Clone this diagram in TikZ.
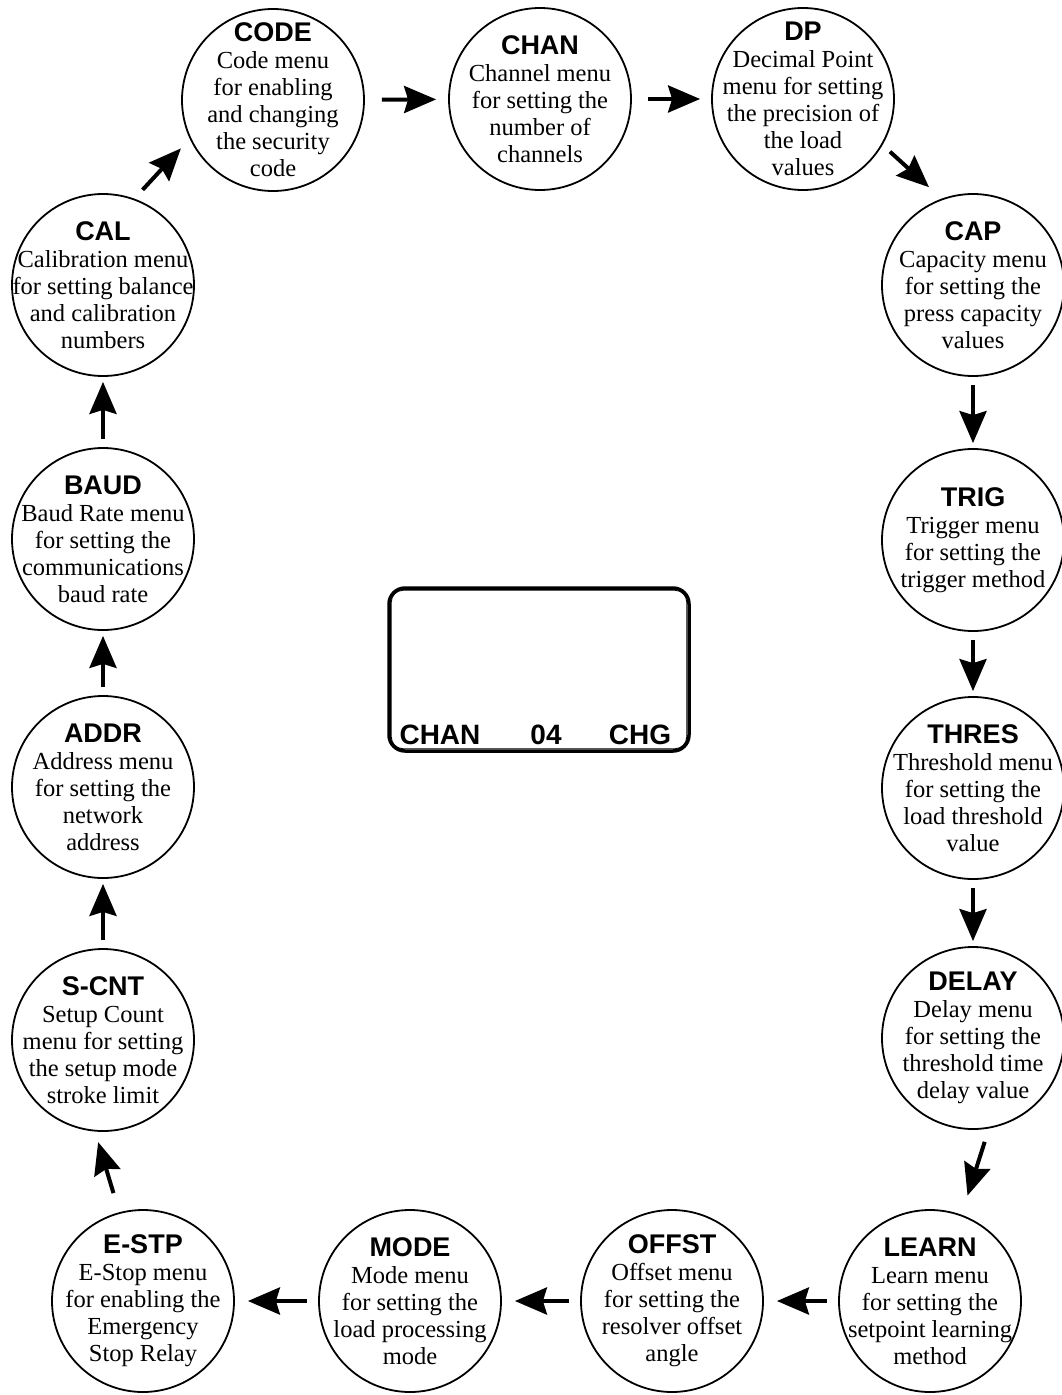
\documentclass[tikz,border=0pt]{standalone}
\usepackage{fontspec}
\setmainfont{Liberation Serif}
\newfontfamily\ttlfont{Liberation Sans}
\usetikzlibrary{arrows.meta,calc}
\newcommand\ttl[1]{{\ttlfont\bfseries\fontsize{27}{27}\selectfont #1}}
\tikzset{
  menu/.style={circle, draw, line width=1.8pt, minimum size=182pt, inner sep=0pt},
  txt/.style={align=center, font=\fontsize{24.5}{27}\selectfont, inner sep=0pt},
  flow/.style={line width=4pt, -{Stealth[length=32pt,width=27pt,inset=4pt]}, shorten <=8pt, shorten >=5pt},
  disp/.style={font=\ttlfont\bfseries\fontsize{28}{28}\selectfont, inner sep=0pt, anchor=base},
}
\begin{document}
\begin{tikzpicture}[x=1pt,y=-1pt]
\useasboundingbox (0,0) rectangle (1062,1395);
% menus
\node[menu, label={[txt]center:{\ttl{CODE}\\Code menu\\for enabling\\and changing\\the security\\code}}] (code) at (273,100) {};
\node[menu, label={[txt]center:{\ttl{CHAN}\\Channel menu\\for setting the\\number of\\channels}}] (chan) at (540,99) {};
\node[menu, label={[txt]center:{\ttl{DP}\\Decimal Point\\menu for setting\\the precision of\\the load\\values}}] (dp) at (803,99) {};
\node[menu, label={[txt]center:{\ttl{CAP}\\Capacity menu\\for setting the\\press capacity\\values}}] (cap) at (973,285) {};
\node[menu, label={[txt]center:{\ttl{TRIG}\\Trigger menu\\for setting the\\trigger method}}] (trig) at (973,540) {};
\node[menu, label={[txt]center:{\ttl{THRES}\\Threshold menu\\for setting the\\load threshold\\value}}] (thres) at (973,788) {};
\node[menu, label={[txt]center:{\ttl{DELAY}\\Delay menu\\for setting the\\threshold time\\delay value}}] (delay) at (973,1038) {};
\node[menu, label={[txt]center:{\ttl{LEARN}\\Learn menu\\for setting the\\setpoint learning\\method}}] (learn) at (930,1301) {};
\node[menu, label={[txt]center:{\ttl{OFFST}\\Offset menu\\for setting the\\resolver offset\\angle}}] (offst) at (672,1301) {};
\node[menu, label={[txt]center:{\ttl{MODE}\\Mode menu\\for setting the\\load processing\\mode}}] (mode) at (410,1301) {};
\node[menu, label={[txt]center:{\ttl{E-STP}\\E-Stop menu\\for enabling the\\Emergency\\Stop Relay}}] (estp) at (143,1301) {};
\node[menu, label={[txt]center:{\ttl{S-CNT}\\Setup Count\\menu for setting\\the setup mode\\stroke limit}}] (scnt) at (103,1040) {};
\node[menu, label={[txt]center:{\ttl{ADDR}\\Address menu\\for setting the\\network\\address}}] (addr) at (103,787) {};
\node[menu, label={[txt]center:{\ttl{BAUD}\\Baud Rate menu\\for setting the\\communications\\baud rate}}] (baud) at (103,539) {};
\node[menu, label={[txt]center:{\ttl{CAL}\\Calibration menu\\for setting balance\\and calibration\\numbers}}] (cal) at (103,285) {};
% display
\node[draw, line width=3.5pt, rounded corners=16pt, minimum width=300pt, minimum height=163pt, inner sep=0pt] (display) at (539,669.5) {};
\draw[line width=0.8pt, rounded corners=12pt] ($(display.north west)+(4,4)$) rectangle ($(display.south east)+(-4,-4)$);
\node[disp] (d1) at (440,744) {CHAN};
\node[disp] (d2) at (546,744) {04};
\node[disp] (d3) at (640,744) {CHG};
% arrows
\draw[flow, shorten <=17pt, shorten >=12pt] (code) -- (chan);
\draw[flow, shorten <=16pt, shorten >=11pt] (chan) -- (dp);
\draw[flow, shorten <=10pt, shorten >=17pt] (dp.-30) -- (cap.110);
\draw[flow] (cap) -- (trig);
\draw[flow] (trig) -- (thres);
\draw[flow] (thres) -- (delay);
\draw[flow, shorten <=14pt, shorten >=20pt] (delay.-80) -- (learn.70);
\draw[flow, shorten <=11pt, shorten >=13pt] (learn) -- (offst);
\draw[flow, shorten <=11pt, shorten >=13pt] (offst) -- (mode);
\draw[flow, shorten <=11pt, shorten >=13pt] (mode) -- (estp);
\draw[flow, shorten <=20pt, shorten >=11pt] (estp.105) -- (scnt.-95);
\draw[flow] (scnt) -- (addr);
\draw[flow] (addr) -- (baud);
\draw[flow] (baud) -- (cal);
\draw[flow, shorten <=12pt, shorten >=13pt] (cal.70) -- (code.-155);
\end{tikzpicture}
\end{document}
